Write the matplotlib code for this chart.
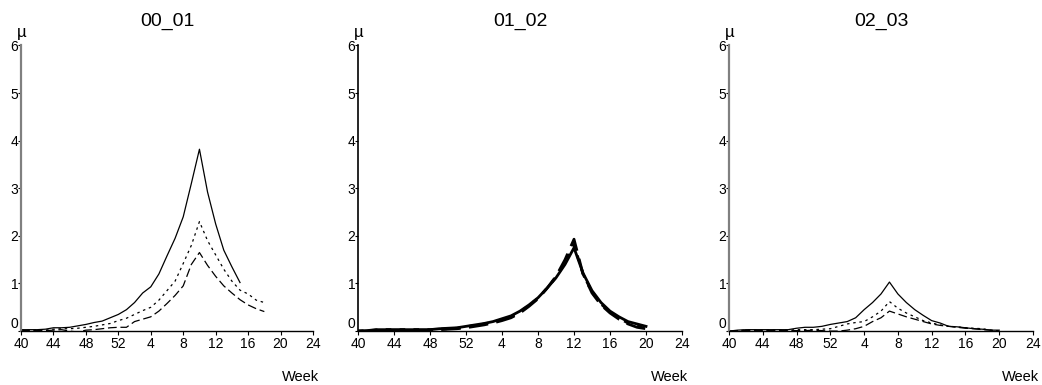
import matplotlib
matplotlib.use("Agg")
import matplotlib.pyplot as plt

plt.rcParams['font.family'] = ['Liberation Sans', 'DejaVu Sans']

# season weeks: 40..52 then 1..24
tick_weeks = [40, 44, 48, 52, 4, 8, 12, 16, 20, 24]
tick_labels = ['40', '44', '48', '52', '4', '8', '12', '16', '20', '24']

weeks_a = list(range(40, 53)) + list(range(1, 19))   # 00_01, to week 18
weeks_b = list(range(40, 53)) + list(range(1, 21))   # 01_02 / 02_03, to week 20

# 00_01
a_solid = [0.03, 0.03, 0.03, 0.04, 0.07, 0.07, 0.08, 0.11, 0.14, 0.18, 0.21, 0.28, 0.35,
           0.45, 0.60, 0.80, 0.93, 1.20, 1.58, 1.95, 2.40, 3.10, 3.82, 2.92, 2.25, 1.70,
           1.35, 1.02]
a_short = [0.02, 0.02, 0.02, 0.02, 0.04, 0.05, 0.05, 0.06, 0.08, 0.10, 0.13, 0.16, 0.22,
           0.27, 0.35, 0.43, 0.50, 0.65, 0.85, 1.05, 1.42, 1.80, 2.30, 1.90, 1.60, 1.30,
           1.05, 0.86, 0.78, 0.65, 0.60]
a_long = [0.01, 0.01, 0.01, 0.01, 0.02, 0.03, 0.00, -0.02, 0.02, 0.03, 0.05, 0.07, 0.08,
          0.08, 0.20, 0.25, 0.30, 0.42, 0.58, 0.75, 0.95, 1.40, 1.65, 1.38, 1.15, 0.95,
          0.80, 0.66, 0.55, 0.47, 0.41]

# 01_02
b_solid = [0.00, 0.01, 0.03, 0.03, 0.03, 0.03, 0.03, 0.03, 0.03, 0.05, 0.06, 0.07, 0.10,
           0.13, 0.16, 0.20, 0.26, 0.32, 0.42, 0.55, 0.70, 0.90, 1.12, 1.40, 1.75, 1.22,
           0.85, 0.60, 0.42, 0.30, 0.20, 0.15, 0.10]
b_short = [0.00, 0.01, 0.02, 0.03, 0.03, 0.03, 0.03, 0.03, 0.03, 0.04, 0.05, 0.06, 0.09,
           0.12, 0.15, 0.19, 0.24, 0.30, 0.40, 0.54, 0.69, 0.90, 1.13, 1.45, 1.82, 1.20,
           0.82, 0.57, 0.40, 0.27, 0.17, 0.11, 0.07]
b_long = [0.00, 0.00, 0.02, 0.02, 0.02, 0.02, 0.02, 0.02, 0.02, 0.03, 0.04, 0.05, 0.07,
          0.10, 0.13, 0.17, 0.22, 0.28, 0.38, 0.52, 0.68, 0.90, 1.15, 1.50, 1.93, 1.20,
          0.80, 0.55, 0.38, 0.25, 0.15, 0.08, 0.05]

# 02_03
c_solid = [0.00, 0.02, 0.03, 0.03, 0.03, 0.03, 0.03, 0.03, 0.06, 0.08, 0.08, 0.10, 0.14,
           0.17, 0.20, 0.28, 0.45, 0.60, 0.78, 1.03, 0.78, 0.60, 0.45, 0.33, 0.22, 0.17,
           0.10, 0.09, 0.07, 0.05, 0.04, 0.02, 0.02]
c_short = [0.00, 0.01, 0.02, 0.02, 0.02, 0.02, 0.02, 0.02, 0.03, 0.03, 0.03, 0.04, 0.05,
           0.10, 0.15, 0.18, 0.20, 0.30, 0.42, 0.62, 0.48, 0.38, 0.30, 0.22, 0.17, 0.13,
           0.10, 0.09, 0.07, 0.06, 0.05, 0.02, 0.00]
c_long = [0.00, 0.01, 0.01, 0.01, 0.01, 0.01, 0.01, 0.01, 0.01, 0.01, 0.02, 0.01, 0.00,
          0.00, 0.02, 0.05, 0.10, 0.20, 0.28, 0.42, 0.36, 0.30, 0.25, 0.20, 0.15, 0.12,
          0.10, 0.08, 0.06, 0.05, 0.03, 0.02, 0.00]


def pos(weeks):
    # weeks 40..52 first, then the new year's weeks
    return [w - 40 if w >= 40 else w + 12 for w in weeks]


panels = [
    ('00_01', weeks_a, a_solid, a_short, a_long, 0.9, '#808080'),
    ('01_02', weeks_b, b_solid, b_short, b_long, 2.0, 'black'),
    ('02_03', weeks_b, c_solid, c_short, c_long, 0.9, '#808080'),
]
rects = [
    [21 / 1042, 0.140, 292 / 1042, 0.742],
    [358 / 1042, 0.140, 324 / 1042, 0.742],
    [729 / 1042, 0.140, 304 / 1042, 0.742],
]

fig = plt.figure(figsize=(10.42, 3.85), dpi=100)

for (title, wk, s, sh, lg, lw, spcol), r in zip(panels, rects):
    ax = fig.add_axes(r)
    x = pos(wk)
    ax.plot(x[:len(s)], s, color='black', lw=lw, ls='-')
    ax.plot(x[:len(sh)], sh, color='black', lw=lw, ls=(0, (2, 3)))
    ax.plot(x[:len(lg)], lg, color='black', lw=lw, ls=(0, (7, 3)))

    ax.set_xlim(0, 36)
    ax.set_ylim(0, 6)
    ax.set_xticks(pos(tick_weeks))
    ax.set_xticklabels(tick_labels)
    ax.set_yticks(range(0, 7))
    ax.tick_params(axis='x', labelsize=10, length=3, width=0.8, pad=1)
    ax.tick_params(axis='y', labelsize=10, length=2, width=0.8, pad=0)
    for sp in ('top', 'right'):
        ax.spines[sp].set_visible(False)
    ax.spines['left'].set_color(spcol)
    ax.spines['left'].set_linewidth(1.6 if spcol != 'black' else 1.2)
    ax.spines['bottom'].set_linewidth(1.0)
    for lbl in ax.get_yticklabels():
        if lbl.get_text() == '0':
            lbl.set_va('bottom')

    ax.set_title(title, fontsize=14, pad=14)
    ax.annotate('µ', xy=(0, 1), xycoords='axes fraction',
                xytext=(1, 5), textcoords='offset pixels',
                ha='center', va='bottom', fontsize=12)
    ax.annotate('Week', xy=(1, 0), xycoords='axes fraction',
                xytext=(6, -46), textcoords='offset pixels',
                ha='right', va='center', fontsize=10.5)

fig.savefig('out.png', dpi=100)
